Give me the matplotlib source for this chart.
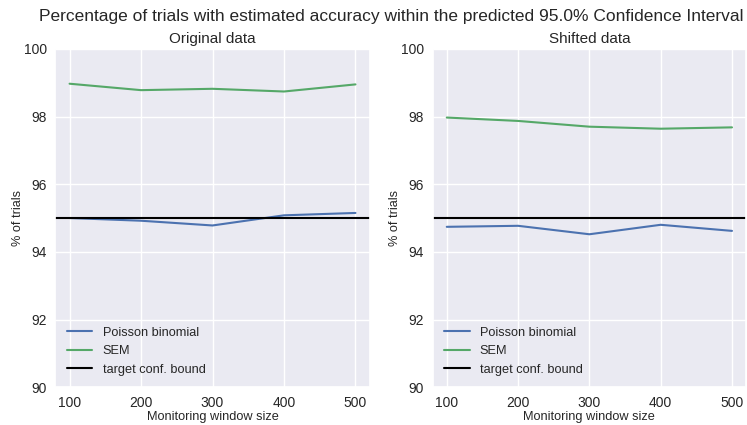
import matplotlib
matplotlib.use("Agg")
import matplotlib.pyplot as plt
import seaborn as sns

sns.set_theme(style="darkgrid")
plt.rcParams['font.family'] = ['Liberation Sans', 'DejaVu Sans']

window_sizes = [100, 200, 300, 400, 500]
orig_poisson = [95.00, 94.92, 94.78, 95.08, 95.15]
orig_sem = [98.97, 98.78, 98.82, 98.74, 98.95]
shift_poisson = [94.74, 94.77, 94.52, 94.80, 94.62]
shift_sem = [97.97, 97.87, 97.70, 97.64, 97.68]
target = 95.0

blue = "#4C72B0"
green = "#55A868"

fig = plt.figure(figsize=(7.47, 4.25), dpi=100)
ax1 = fig.add_axes([0.074, 0.089, 0.421, 0.796])
ax2 = fig.add_axes([0.579, 0.089, 0.420, 0.796])

for ax, pois, sem, title in [(ax1, orig_poisson, orig_sem, "Original data"),
                             (ax2, shift_poisson, shift_sem, "Shifted data")]:
    ax.plot(window_sizes, pois, color=blue, lw=1.5, label="Poisson binomial")
    ax.plot(window_sizes, sem, color=green, lw=1.5, label="SEM")
    ax.axhline(target, color="black", lw=1.5, label="target conf. bound")
    ax.set_ylim(90, 100)
    ax.set_xlim(80, 520)
    ax.set_xticks(window_sizes)
    ax.set_yticks([90, 92, 94, 96, 98, 100])
    ax.tick_params(axis="x", labelsize=10, pad=6, length=0)
    ax.tick_params(axis="y", labelsize=10, pad=6, length=0)
    ax.set_title(title, fontsize=11, pad=4)
    ax.set_xlabel("Monitoring window size", fontsize=9.2, labelpad=1)
    ax.set_ylabel("% of trials", fontsize=9.2, labelpad=0)
    ax.legend(loc="lower left", frameon=False, fontsize=9.2)

fig.suptitle("Percentage of trials with estimated accuracy within the predicted 95.0% Confidence Interval",
             fontsize=12.5, x=0.524, y=0.978)
fig.savefig("out.png", dpi=100)
